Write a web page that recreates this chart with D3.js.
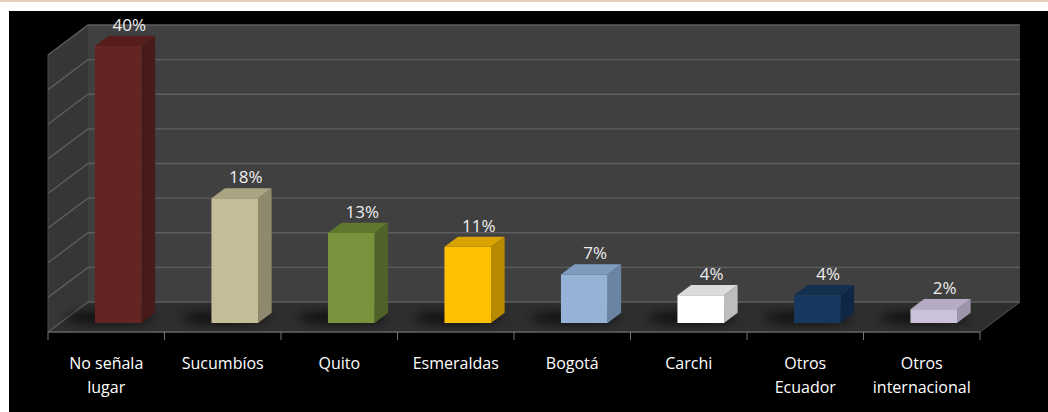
<!DOCTYPE html>
<html><head><meta charset="utf-8">
<script src="https://cdn.jsdelivr.net/npm/d3@7"></script>
<style>body{margin:0;background:#fff;}svg{display:block;}</style>
</head><body>
<svg id="c" width="1048" height="412"></svg>
<script>
const categories = [["No señala","lugar"],["Sucumbíos"],["Quito"],["Esmeraldas"],["Bogotá"],["Carchi"],["Otros","Ecuador"],["Otros","internacional"]];
const values = [40, 18, 13, 11, 7, 4, 4, 2];
const valueLabels = ["40%","18%","13%","11%","7%","4%","4%","2%"];
const gridTicks = [0,5,10,15,20,25,30,35,40];
const frontColors = ["#632523","#c4bd97","#77933c","#ffc000","#95b3d7","#ffffff","#17375e","#ccc1da"];
const sideColors  = ["#481a19","#8f8a6e","#4f6228","#b88a00","#6c84a3","#bdbdbd","#0f2745","#9e95ab"];
const topColors   = ["#561f1d","#aaa483","#5f772e","#d9a300","#7f9cc0","#dcdcdc","#13304f","#b6abc4"];

const svg = d3.select("#c");
const font = "'Open Sans', sans-serif";

// page frame
svg.append("rect").attr("x",0).attr("y",0).attr("width",1048).attr("height",2).attr("fill","#e8cdbd");
svg.append("rect").attr("x",9).attr("y",11).attr("width",1039).attr("height",401).attr("fill","#000");

// 3D geometry
const x0 = 48, x1 = 980, floorFront = 332, DX = 40, DY = 30;
const idx = d3.range(values.length);
const x = d3.scaleBand().domain(idx).range([x0, x1]).paddingInner(0.6).paddingOuter(0.3);
const xb = d3.scaleBand().domain(idx).range([x0, x1]).padding(0);
const h = d3.scaleLinear().domain([0, 40]).range([0, 277]);
const ox = f => f * DX, baseY = f => floorFront - f * DY;

// walls
const pt = p => p.join(",");
svg.append("polygon").attr("fill","#404040")
  .attr("points",[[x0+DX,baseY(1)],[x1+DX,baseY(1)],[x1+DX,baseY(1)-h(40)],[x0+DX,baseY(1)-h(40)]].map(pt).join(" "));
svg.append("polygon").attr("fill","#363636")
  .attr("points",[[x0,baseY(0)],[x0+DX,baseY(1)],[x0+DX,baseY(1)-h(40)],[x0,baseY(0)-h(40)]].map(pt).join(" "));
svg.append("polygon").attr("fill","#2e2e2e")
  .attr("points",[[x0,baseY(0)],[x1,baseY(0)],[x1+DX,baseY(1)],[x0+DX,baseY(1)]].map(pt).join(" "));

// gridlines
const g = svg.append("g").attr("stroke","#5e5e5e").attr("stroke-width",1.3).attr("fill","none");
gridTicks.forEach(v => {
  g.append("polyline").attr("points",[[x0,baseY(0)-h(v)],[x0+DX,baseY(1)-h(v)],[x1+DX,baseY(1)-h(v)]].map(pt).join(" "));
});
svg.append("line").attr("x1",x0).attr("x2",x1).attr("y1",baseY(0)).attr("y2",baseY(0)).attr("stroke","#666").attr("stroke-width",1.3);
svg.append("line").attr("x1",x1).attr("x2",x1+DX).attr("y1",baseY(0)).attr("y2",baseY(1)).attr("stroke","#555").attr("stroke-width",1);
svg.append("line").attr("x1",x0).attr("x2",x0).attr("y1",baseY(0)).attr("y2",baseY(0)-h(40)).attr("stroke","#4a4a4a").attr("stroke-width",1);

// axis ticks
const tickXs = idx.map(i => xb(i)).concat([x1]);
svg.append("g").selectAll("line").data(tickXs).join("line")
  .attr("x1",d=>d).attr("x2",d=>d).attr("y1",baseY(0)).attr("y2",baseY(0)+8)
  .attr("stroke","#777").attr("stroke-width",1);

// shadows
const defs = svg.append("defs");
defs.append("filter").attr("id","blur").attr("x","-50%").attr("y","-200%").attr("width","200%").attr("height","500%")
  .append("feGaussianBlur").attr("stdDeviation",5);
const f0 = 0.3, f1 = 0.64;
svg.append("g").selectAll("ellipse").data(idx).join("ellipse")
  .attr("cx", i => x(i) + ox(f0) + x.bandwidth()*0.3)
  .attr("cy", baseY((f0+f1)/2))
  .attr("rx", x.bandwidth()*0.95).attr("ry", 7)
  .attr("fill","#000").attr("opacity",0.6).attr("filter","url(#blur)");

// bars
const bars = svg.append("g").selectAll("g").data(idx).join("g");
bars.each(function(i){
  const gb = d3.select(this);
  const xl = x(i) + ox(f0), xr = xl + x.bandwidth();
  const yb = baseY(f0), yt = yb - h(values[i]);
  const dx = ox(f1) - ox(f0), dy = baseY(f0) - baseY(f1);
  gb.append("polygon").attr("fill", sideColors[i])
    .attr("points",[[xr,yb],[xr+dx,yb-dy],[xr+dx,yt-dy],[xr,yt]].map(pt).join(" "));
  gb.append("polygon").attr("fill", topColors[i])
    .attr("points",[[xl,yt],[xr,yt],[xr+dx,yt-dy],[xl+dx,yt-dy]].map(pt).join(" "));
  gb.append("rect").attr("fill", frontColors[i]).attr("x", xl).attr("y", yt).attr("width", xr-xl).attr("height", yb-yt);
  gb.append("text").attr("x", (xl+xr)/2 + 11).attr("y", yt - dy - 5)
    .attr("text-anchor","middle").attr("font-family",font).attr("font-size",17)
    .attr("fill","#eeeeee").text(valueLabels[i]);
});

// category labels
svg.append("g").selectAll("text").data(idx).join("text")
  .attr("x", i => xb(i) + xb.bandwidth()/2).attr("y", 369)
  .attr("text-anchor","middle").attr("font-family",font).attr("font-size",16).attr("fill","#ffffff")
  .each(function(i){
    const t = d3.select(this);
    categories[i].forEach((line, k) => {
      t.append("tspan").attr("x", xb(i) + xb.bandwidth()/2).attr("dy", k === 0 ? 0 : 24).text(line);
    });
  });
</script>
</body></html>
